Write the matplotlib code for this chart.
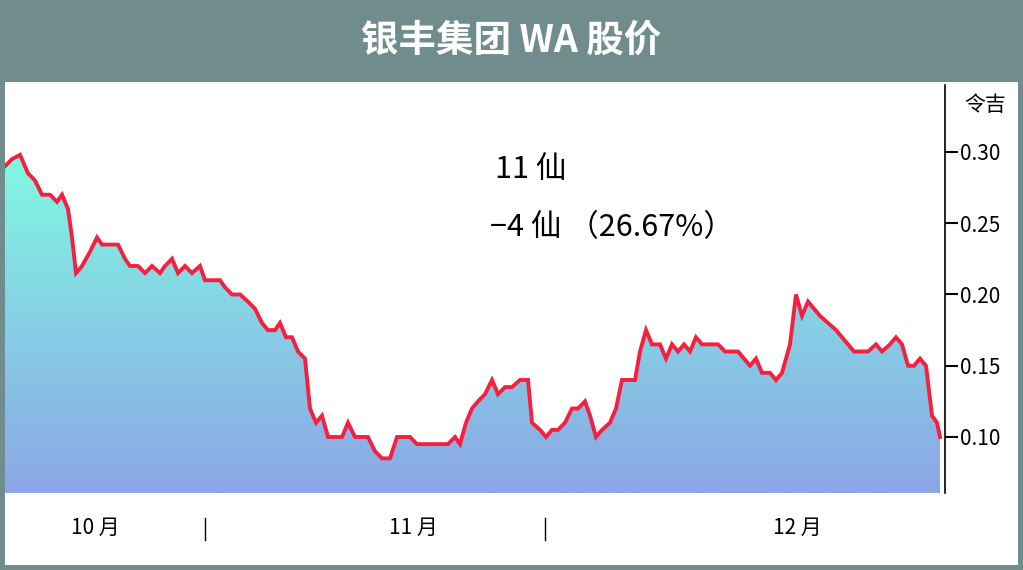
import numpy as np
import matplotlib.pyplot as plt
from matplotlib.patches import Rectangle
from matplotlib.colors import LinearSegmentedColormap

plt.rcParams['font.family'] = ['Noto Sans CJK SC', 'DejaVu Sans']

# trading-day position and price (RM)
days = [5, 12, 20, 28, 35, 42, 50, 57, 62, 68, 72, 76, 82, 90, 97, 102, 110, 118,
        125, 130, 138, 145, 152, 160, 165, 172, 178, 185, 192, 200, 205, 212, 220,
        225, 232, 240, 248, 255, 262, 268, 275, 280, 286, 292, 298, 305, 310, 316,
        322, 328, 335, 342, 348, 355, 362, 368, 375, 382, 390, 397, 404, 410, 417,
        424, 432, 440, 448, 455, 460, 466, 472, 478, 485, 492, 498, 505, 512, 520,
        528, 532, 540, 546, 552, 558, 565, 572, 578, 585, 590, 596, 602, 610, 616,
        622, 628, 635, 640, 646, 652, 660, 666, 672, 678, 684, 690, 696, 702, 710,
        718, 725, 732, 738, 744, 750, 756, 762, 770, 776, 782, 790, 796, 802, 808,
        814, 820, 828, 836, 842, 848, 854, 860, 868, 876, 882, 890, 896, 902, 908,
        914, 920, 926, 932, 937, 940]
prices = [0.29, 0.295, 0.298, 0.285, 0.28, 0.27, 0.27, 0.265, 0.27, 0.26, 0.24,
          0.215, 0.22, 0.23, 0.24, 0.235, 0.235, 0.235, 0.225, 0.22, 0.22, 0.215,
          0.22, 0.215, 0.22, 0.225, 0.215, 0.22, 0.215, 0.22, 0.21, 0.21, 0.21,
          0.205, 0.20, 0.20, 0.195, 0.19, 0.18, 0.175, 0.175, 0.18, 0.17, 0.17,
          0.16, 0.155, 0.12, 0.11, 0.115, 0.10, 0.10, 0.10, 0.11, 0.10, 0.10, 0.10,
          0.09, 0.085, 0.085, 0.10, 0.10, 0.10, 0.095, 0.095, 0.095, 0.095, 0.095,
          0.10, 0.095, 0.11, 0.12, 0.125, 0.13, 0.14, 0.13, 0.135, 0.135, 0.14,
          0.14, 0.11, 0.105, 0.10, 0.105, 0.105, 0.11, 0.12, 0.12, 0.125, 0.115,
          0.10, 0.105, 0.11, 0.12, 0.14, 0.14, 0.14, 0.16, 0.175, 0.165, 0.165,
          0.155, 0.165, 0.16, 0.165, 0.16, 0.17, 0.165, 0.165, 0.165, 0.16, 0.16,
          0.16, 0.155, 0.15, 0.155, 0.145, 0.145, 0.14, 0.145, 0.165, 0.20, 0.185,
          0.195, 0.19, 0.185, 0.18, 0.175, 0.17, 0.165, 0.16, 0.16, 0.16, 0.165,
          0.16, 0.165, 0.17, 0.165, 0.15, 0.15, 0.155, 0.15, 0.115, 0.11, 0.10]
yticks = [0.10, 0.15, 0.20, 0.25, 0.30]
months = ['10 月', '11 月', '12 月']
month_pos = [95, 413, 797]
separators = [205, 545]

W, H = 1023, 570
fig = plt.figure(figsize=(W / 100, H / 100), dpi=100)
fig.patch.set_facecolor('#708c8c')
fig.patches.append(Rectangle((5 / W, 5 / H), 1013 / W, 483 / H, transform=fig.transFigure,
                             facecolor='white', edgecolor='none', zorder=-5))
fig.text(0.5, 1 - 40 / H, '银丰集团 WA 股价', color='white', fontsize=27,
         fontweight='bold', ha='center', va='center')

ax = fig.add_axes([5 / W, 1 - 493 / H, 940 / W, 408 / H])
ax.set_zorder(2)
ax.set_facecolor('none')
ymin, ymax = 0.0607, 0.347
ax.set_xlim(5, 945)
ax.set_ylim(ymin, ymax)

# gradient fill under the line
grad = np.linspace(0, 1, 256).reshape(-1, 1)
cmap = LinearSegmentedColormap.from_list('g', ['#8ca6e6', '#80fae2'])
poly = ax.fill_between(days, prices, ymin, color='none')
im = ax.imshow(grad, cmap=cmap, aspect='auto', origin='lower',
               extent=[5, 945, ymin, 0.30], zorder=1)
im.set_clip_path(poly.get_paths()[0], transform=ax.transData)
ax.set_xlim(5, 945)
ax.set_ylim(ymin, ymax)
ax.plot(days, prices, color='#f5203f', lw=2.8, zorder=3, solid_joinstyle='miter')

for s in ['top', 'left', 'bottom']:
    ax.spines[s].set_visible(False)
ax.spines['right'].set_linewidth(1.2)
ax.yaxis.tick_right()
ax.set_yticks(yticks)
ax.set_yticklabels(['%.2f' % v for v in yticks])
ax.tick_params(axis='y', direction='out', length=9, width=1.5, labelsize=15, pad=2)
ax.set_xticks([])

fig.text(985 / W, 1 - 105 / H, '令吉', fontsize=15, ha='center', va='center')
fig.text(495 / W, 1 - 170 / H, '11 仙', fontsize=22, va='center')
fig.text(490 / W, 1 - 228 / H, '−4 仙 （26.67%）', fontsize=22, va='center')

for m, p in zip(months, month_pos):
    fig.text(p / W, 1 - 528 / H, m, fontsize=15, ha='center', va='center')
for s in separators:
    fig.add_artist(plt.Line2D([s / W, s / W], [1 - 518 / H, 1 - 540 / H],
                              color='black', lw=1))

fig.savefig('out.png', dpi=100, facecolor=fig.get_facecolor())
